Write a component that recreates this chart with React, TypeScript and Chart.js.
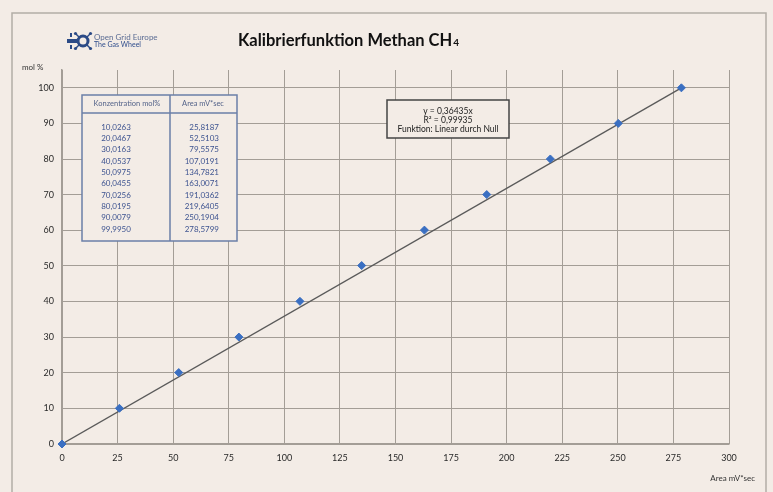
import React, { useEffect, useRef } from "react";
import { Chart, registerables } from "chart.js";

Chart.register(...registerables);

const concentration = [0, 10.0263, 20.0467, 30.0163, 40.0537, 50.0975, 60.0455, 70.0256, 80.0195, 90.0079, 99.995];
const area = [0, 25.8187, 52.5103, 79.5575, 107.0191, 134.7821, 163.0071, 191.0362, 219.6405, 250.1904, 278.5799];
const xTicks = [0, 25, 50, 75, 100, 125, 150, 175, 200, 225, 250, 275, 300];
const yTicks = [0, 10, 20, 30, 40, 50, 60, 70, 80, 90, 100];
const equationLines = ["y = 0,36435x", "R\u00b2 = 0,99935", "Funktion: Linear durch Null"];
const tableHeaders = ["Konzentration mol%", "Area mV*sec"];

const BG = "#f3ece6";
const FONT = "Lato, 'Open Sans', sans-serif";

const fmt = (v: number) => v.toFixed(4).replace(".", ",");

const decorPlugin = {
  id: "decor",
  beforeDraw(chart: any) {
    const ctx = chart.ctx;
    ctx.save();
    ctx.fillStyle = BG;
    ctx.fillRect(0, 0, chart.width, chart.height);
    ctx.strokeStyle = "#b3ada6";
    ctx.lineWidth = 1.5;
    ctx.strokeRect(12, 13, 754, 500);
    ctx.restore();
  },
  afterDraw(chart: any) {
    const ctx = chart.ctx;
    ctx.save();
    // Title
    ctx.fillStyle = "#111";
    ctx.font = `bold 16.5px ${FONT}`;
    ctx.textBaseline = "middle";
    ctx.textAlign = "left";
    const t = "Kalibrierfunktion Methan CH";
    const tw = ctx.measureText(t).width;
    ctx.font = `bold 10px ${FONT}`;
    const sw = ctx.measureText("4").width;
    const tx = 348 - (tw + sw) / 2;
    ctx.font = `bold 16.5px ${FONT}`;
    ctx.fillText(t, tx, 41);
    ctx.font = `bold 10px ${FONT}`;
    ctx.fillText("4", tx + tw + 1, 43);

    // Logo
    ctx.fillStyle = "#2b4a86";
    ctx.strokeStyle = "#2b4a86";
    ctx.lineWidth = 3;
    ctx.fillRect(67, 39, 12, 4);
    ctx.beginPath();
    ctx.arc(83, 41, 5, 0, Math.PI * 2);
    ctx.stroke();
    ctx.lineWidth = 1.5;
    const spokes = [[-1, -1], [1, -1], [1, 1], [-1, 1]];
    spokes.forEach(([dx, dy]) => {
      ctx.beginPath();
      ctx.moveTo(83 + dx * 4, 41 + dy * 4);
      ctx.lineTo(83 + dx * 7, 41 + dy * 7);
      ctx.stroke();
      ctx.beginPath();
      ctx.arc(83 + dx * 7.5, 41 + dy * 7.5, 1.6, 0, Math.PI * 2);
      ctx.fill();
    });
    ctx.fillRect(70, 33, 2, 4);
    ctx.fillRect(70, 45, 2, 4);
    ctx.font = `8px ${FONT}`;
    ctx.fillStyle = "#5c6d94";
    ctx.textAlign = "left";
    ctx.fillText("Open Grid Europe", 94, 37);
    ctx.font = `7px ${FONT}`;
    ctx.fillStyle = "#2f4d8c";
    ctx.fillText("The Gas Wheel", 94, 45);

    // Axis titles
    ctx.fillStyle = "#333";
    ctx.font = `8px ${FONT}`;
    ctx.textAlign = "left";
    ctx.fillText("mol %", 22, 67);
    ctx.textAlign = "right";
    ctx.fillText("Area mV*sec", 755, 478);

    // Data table
    const L = 82, R = 237, T = 95, B = 241, mid = 170, hdr = 113;
    ctx.fillStyle = BG;
    ctx.fillRect(L, T, R - L, B - T);
    ctx.strokeStyle = "#6b7fa8";
    ctx.lineWidth = 1.5;
    ctx.strokeRect(L, T, R - L, B - T);
    ctx.beginPath();
    ctx.moveTo(L, hdr);
    ctx.lineTo(R, hdr);
    ctx.moveTo(mid, T);
    ctx.lineTo(mid, B);
    ctx.stroke();
    ctx.font = `7.5px ${FONT}`;
    ctx.fillStyle = "#55648a";
    ctx.textAlign = "center";
    ctx.fillText(tableHeaders[0], 127, 104);
    ctx.fillText(tableHeaders[1], 203, 104);
    ctx.fillStyle = "#3d5390";
    ctx.font = `8px ${FONT}`;
    for (let i = 1; i < concentration.length; i++) {
      const y = 127 + (i - 1) * 11.33;
      ctx.textAlign = "center";
      ctx.fillText(fmt(concentration[i]), 116, y);
      ctx.textAlign = "right";
      ctx.fillText(fmt(area[i]), 219, y);
    }

    // Equation box
    const eL = 387, eR = 509, eT = 100, eB = 138;
    ctx.fillStyle = BG;
    ctx.fillRect(eL, eT, eR - eL, eB - eT);
    ctx.strokeStyle = "#444";
    ctx.lineWidth = 1.5;
    ctx.strokeRect(eL, eT, eR - eL, eB - eT);
    ctx.fillStyle = "#222";
    ctx.font = `8.5px ${FONT}`;
    ctx.textAlign = "center";
    equationLines.forEach((s, i) => ctx.fillText(s, (eL + eR) / 2, 111 + i * 9));
    ctx.restore();
  },
};

export default function App() {
  const ref = useRef<HTMLCanvasElement | null>(null);
  useEffect(() => {
    document.body.style.margin = "0";
    document.body.style.background = BG;
    if (!ref.current) return;
    const points = area.map((x, i) => ({ x, y: concentration[i] }));
    const last = points.length - 1;
    const chart = new Chart(ref.current, {
      type: "scatter",
      data: {
        datasets: [
          {
            label: "Kalibrierpunkte",
            data: points,
            pointStyle: "rectRot",
            pointRadius: 4,
            pointHoverRadius: 4,
            backgroundColor: "#3a6fc2",
            borderColor: "#3a6fc2",
            borderWidth: 1,
            clip: false,
            order: 0,
          },
          {
            label: "Linear",
            type: "line",
            data: [points[0], points[last]],
            borderColor: "#5a5a5a",
            borderWidth: 1.3,
            pointRadius: 0,
            fill: false,
            order: 1,
          },
        ],
      },
      options: {
        responsive: false,
        animation: false,
        layout: { padding: { top: 70, right: 44, left: 0, bottom: 0 } },
        plugins: {
          legend: { display: false },
          tooltip: { enabled: false },
          title: { display: false },
        },
        scales: {
          x: {
            type: "linear",
            min: 0,
            max: 300,
            afterBuildTicks: (s: any) => {
              s.ticks = xTicks.map((v) => ({ value: v }));
            },
            afterFit: (s: any) => {
              s.height = 48;
            },
            grid: { color: "#a39d96", lineWidth: 1, drawTicks: false },
            border: { color: "#a39d96", width: 1.5 },
            ticks: {
              padding: 9,
              color: "#2a2a2a",
              font: { family: FONT, size: 9 },
              maxRotation: 0,
              autoSkip: false,
            },
          },
          y: {
            type: "linear",
            min: 0,
            max: 105,
            afterBuildTicks: (s: any) => {
              s.ticks = yTicks.map((v) => ({ value: v }));
            },
            afterFit: (s: any) => {
              s.width = 62;
            },
            grid: { color: "#a39d96", lineWidth: 1, drawTicks: false },
            border: { color: "#a39d96", width: 1.5 },
            ticks: {
              padding: 8,
              color: "#2a2a2a",
              font: { family: FONT, size: 9 },
              autoSkip: false,
            },
          },
        },
      },
      plugins: [decorPlugin],
    });
    return () => chart.destroy();
  }, []);
  return (
    <div style={{ width: 773, height: 492, background: BG }}>
      <canvas ref={ref} width={773} height={492} style={{ display: "block" }} />
    </div>
  );
}
